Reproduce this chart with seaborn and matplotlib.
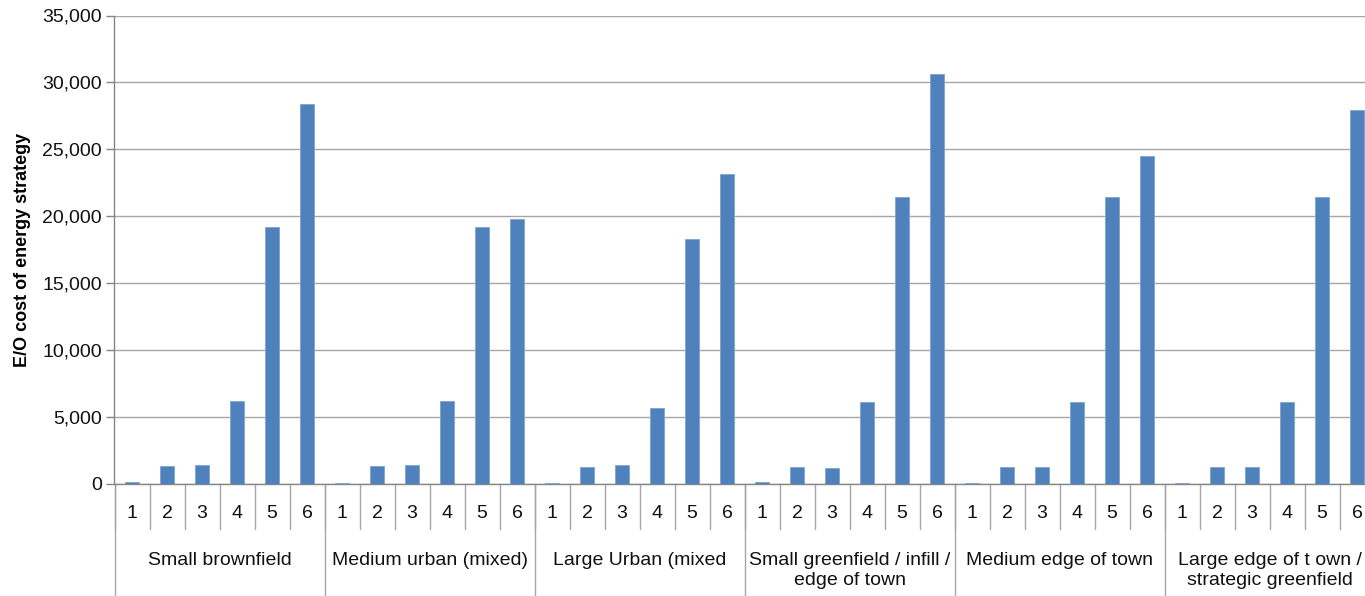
import numpy as np
import pandas as pd
import matplotlib
matplotlib.use("Agg")
import matplotlib.pyplot as plt
import matplotlib.transforms as mtransforms
from matplotlib.ticker import FuncFormatter
import seaborn as sns

# Site typologies and the six energy strategy options for each
groups = [
    "Small brownfield",
    "Medium urban (mixed)",
    "Large Urban (mixed",
    "Small greenfield / infill /\nedge of town",
    "Medium edge of town",
    "Large edge of t own /\nstrategic greenfield",
]
options = ["1", "2", "3", "4", "5", "6"]

# E/O cost per option, one list per typology
small_brownfield = [150, 1320, 1440, 6200, 19230, 28420]
medium_urban = [100, 1320, 1440, 6200, 19200, 19800]
large_urban = [100, 1300, 1440, 5680, 18300, 23170]
small_greenfield = [150, 1300, 1220, 6100, 21420, 30640]
medium_edge = [100, 1300, 1250, 6150, 21450, 24510]
large_edge = [100, 1300, 1250, 6150, 21450, 27950]

series = [small_brownfield, medium_urban, large_urban,
          small_greenfield, medium_edge, large_edge]

rows = []
for g, vals in zip(groups, series):
    for o, v in zip(options, vals):
        rows.append({"slot": f"{g}#{o}", "group": g, "option": o, "cost": v})
df = pd.DataFrame(rows)

sns.set_theme(style="white")
plt.rcParams["font.family"] = ["Liberation Sans", "DejaVu Sans"]

W, H = 1365, 596
fig = plt.figure(figsize=(W / 100, H / 100), dpi=100)
left_px, right_px, top_px, bottom_px = 114.5, 1374.5, 15.5, 484.0
ax = fig.add_axes([left_px / W, 1 - bottom_px / H,
                   (right_px - left_px) / W, (bottom_px - top_px) / H])

sns.barplot(data=df, x="slot", y="cost", order=list(df["slot"]),
            color="#4F81BD", saturation=1, width=0.4,
            edgecolor="#7FA3D3", linewidth=0.6, ax=ax, zorder=3)

ax.set_xlim(-0.5, len(df) - 0.5)
ax.set_ylim(0, 35000)
ax.set_yticks(np.arange(0, 35001, 5000))
ax.yaxis.set_major_formatter(FuncFormatter(lambda v, p: f"{int(v):,}"))
ax.tick_params(axis="y", which="major", direction="out", length=6,
               width=1, color="#868686", labelsize=14, labelcolor="#111111",
               pad=3, left=True)
ax.set_xticks([])
ax.set_xlabel("")
ax.set_ylabel("E/O cost of energy strategy", fontsize=13,
              fontweight="bold", color="#000000", labelpad=8)

ax.grid(axis="y", color="#A6A6A6", linewidth=1, zorder=0)
ax.set_axisbelow(True)
for s in ["top", "right"]:
    ax.spines[s].set_visible(False)
for s in ["left", "bottom"]:
    ax.spines[s].set_color("#868686")
    ax.spines[s].set_linewidth(1)

axes_h = bottom_px - top_px
def ax_y(px):
    # pixel row below the plot -> axes fraction
    return -(px - bottom_px) / axes_h

trans = mtransforms.blended_transform_factory(ax.transData, ax.transAxes)

# category tick marks and option numbers
for i in range(len(df)):
    ax.plot([i - 0.5, i - 0.5], [0, ax_y(529)], color="#A6A6A6", lw=1,
            transform=trans, clip_on=False)
    ax.text(i, ax_y(513), df["option"].iloc[i], transform=trans,
            ha="center", va="center", fontsize=14, color="#111111")

# group separators and group labels
n = len(options)
for k, g in enumerate(groups):
    x0 = k * n - 0.5
    ax.plot([x0, x0], [0, ax_y(600)], color="#A6A6A6", lw=1,
            transform=trans, clip_on=False)
    ax.text(x0 + n / 2, ax_y(552), g, transform=trans, ha="center",
            va="top", fontsize=14, color="#111111", linespacing=1.22,
            multialignment="center")
ax.plot([len(df) - 0.5] * 2, [0, ax_y(600)], color="#A6A6A6", lw=1,
        transform=trans, clip_on=False)

fig.savefig("out.png", dpi=100)
